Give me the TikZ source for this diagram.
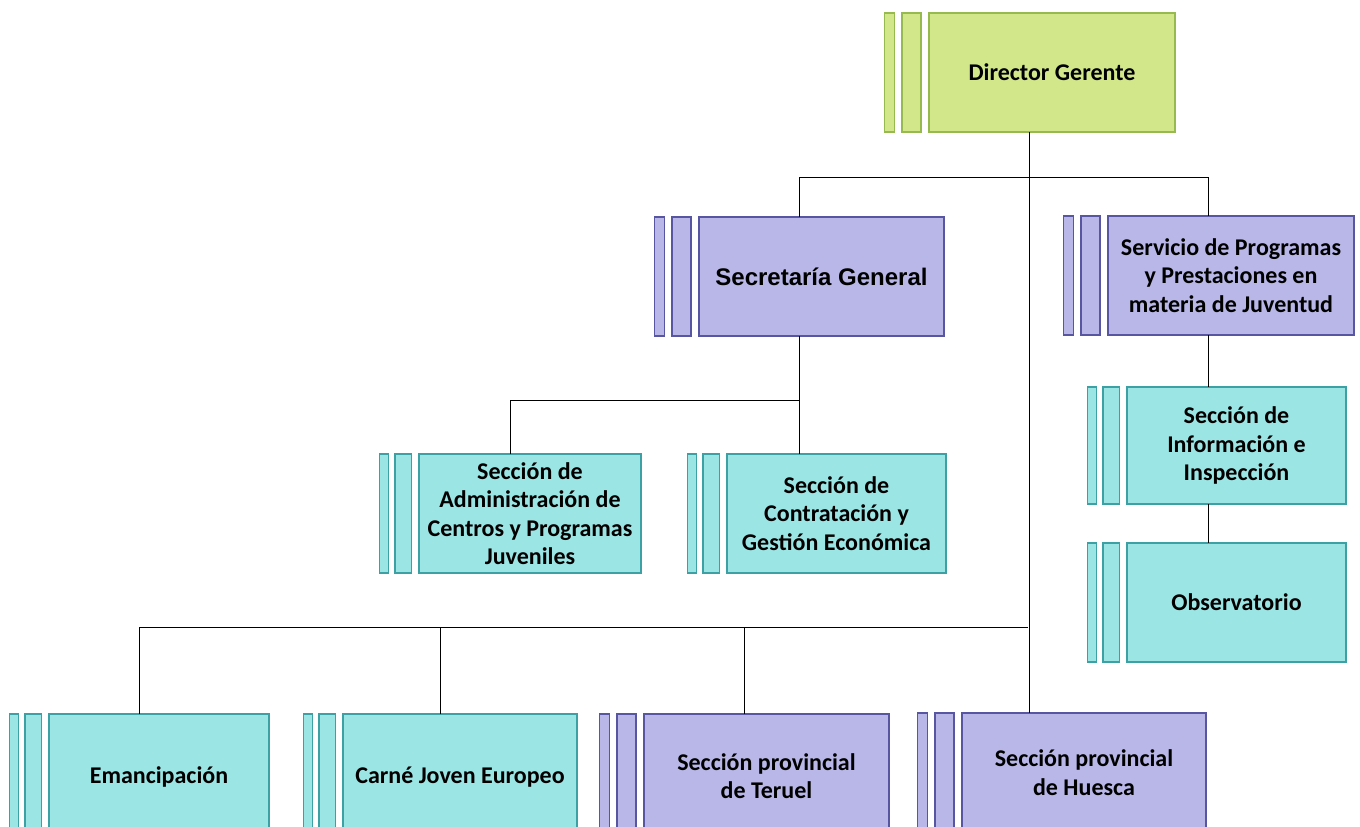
\documentclass[tikz,border=0pt]{standalone}
\usepackage{fontspec}
\setmainfont{Carlito}
\newfontfamily\arialfont{Liberation Sans}
\usetikzlibrary{fit}
\definecolor{gfill}{RGB}{209,231,138}
\definecolor{gdraw}{RGB}{150,185,80}
\definecolor{pfill}{RGB}{184,183,232}
\definecolor{pdraw}{RGB}{88,86,160}
\definecolor{tfill}{RGB}{156,229,229}
\definecolor{tdraw}{RGB}{60,160,165}
\tikzset{
  unit/.style={rectangle, inner sep=0pt, outer sep=0pt, line width=1.2pt, align=center,
    font=\fontsize{24}{28.5}\selectfont\bfseries},
  greenbox/.style={unit, fill=gfill, draw=gdraw},
  purplebox/.style={unit, fill=pfill, draw=pdraw},
  tealbox/.style={unit, fill=tfill, draw=tdraw},
  link/.style={draw=black, line width=1pt}
}
\newcommand\orgunit[8]{%
  \pgfmathsetmacro\ouCx{(#3+#5)/2}%
  \pgfmathsetmacro\ouCy{(#4+#6)/2}%
  \pgfmathsetmacro\ouW{#5-#3}%
  \pgfmathsetmacro\ouH{#6-#4}%
  \pgfmathsetmacro\ouAx{#3-39.5*#8}%
  \pgfmathsetmacro\ouAw{10*#8}%
  \pgfmathsetmacro\ouBx{#3-17.5*#8}%
  \pgfmathsetmacro\ouBw{19*#8}%
  \node[#2, minimum width=\ouW pt, minimum height=\ouH pt] (#1) at (\ouCx,\ouCy) {#7};
  \node[#2, minimum width=\ouAw pt, minimum height=\ouH pt] (#1-a) at (\ouAx,\ouCy) {};
  \node[#2, minimum width=\ouBw pt, minimum height=\ouH pt] (#1-b) at (\ouBx,\ouCy) {};
  \node[fit=(#1-a)(#1), inner sep=0pt, outer sep=0pt] (#1g) {};
}
\begin{document}
\begin{tikzpicture}[x=1pt, y=-1pt]
\fill[white] (0,0) rectangle (1360,827);
\clip (0,0) rectangle (1360,827);

\orgunit{dir}{greenbox}{929}{13}{1175}{132}{Director Gerente}{1}
\orgunit{sg}{purplebox}{699}{217}{944}{336}{{\arialfont\bfseries Secretaría General}}{1}
\orgunit{svc}{purplebox}{1108}{216}{1354}{335}{Servicio de Programas\\y Prestaciones en\\materia de Juventud}{1}
\orgunit{adm}{tealbox}{419}{454}{641}{573}{Sección de\\Administración de\\Centros y Programas\\Juveniles}{0.89}
\orgunit{con}{tealbox}{727}{454}{946}{573}{Sección de\\Contratación y\\Gestión Económica}{0.89}
\orgunit{inf}{tealbox}{1127}{387}{1346}{504}{Sección de\\Información e\\Inspección}{0.89}
\orgunit{obs}{tealbox}{1127}{543}{1346}{662}{Observatorio}{0.89}
\orgunit{ema}{tealbox}{49}{714}{269}{840}{Emancipación}{0.89}
\orgunit{car}{tealbox}{343}{714}{577}{840}{Carné Joven Europeo}{0.89}
\orgunit{ter}{purplebox}{644}{714}{889}{838}{Sección provincial\\de Teruel}{1}
\orgunit{hue}{purplebox}{962}{713}{1206}{832}{Sección provincial\\de Huesca}{1}

\coordinate (bus) at (1028,627);
\coordinate (sgbus) at (799.5,400);

\draw[link] (dirg.south) -- (dirg.south |- hueg.north);
\draw[link] (sgg.north) -- ++(0,-40) -| (svcg.north);
\draw[link] (sgg.south) -- (sgg.south |- cong.north);
\draw[link] (admg.north) |- (sgbus);
\draw[link] (svcg.south) -- (svcg.south |- infg.north);
\draw[link] (svcg.south |- infg.south) -- (svcg.south |- obsg.north);
\draw[link] (emag.north) |- (bus);
\draw[link] (carg.north) -- (carg.north |- bus);
\draw[link] (terg.north) -- (terg.north |- bus);
\end{tikzpicture}
\end{document}
